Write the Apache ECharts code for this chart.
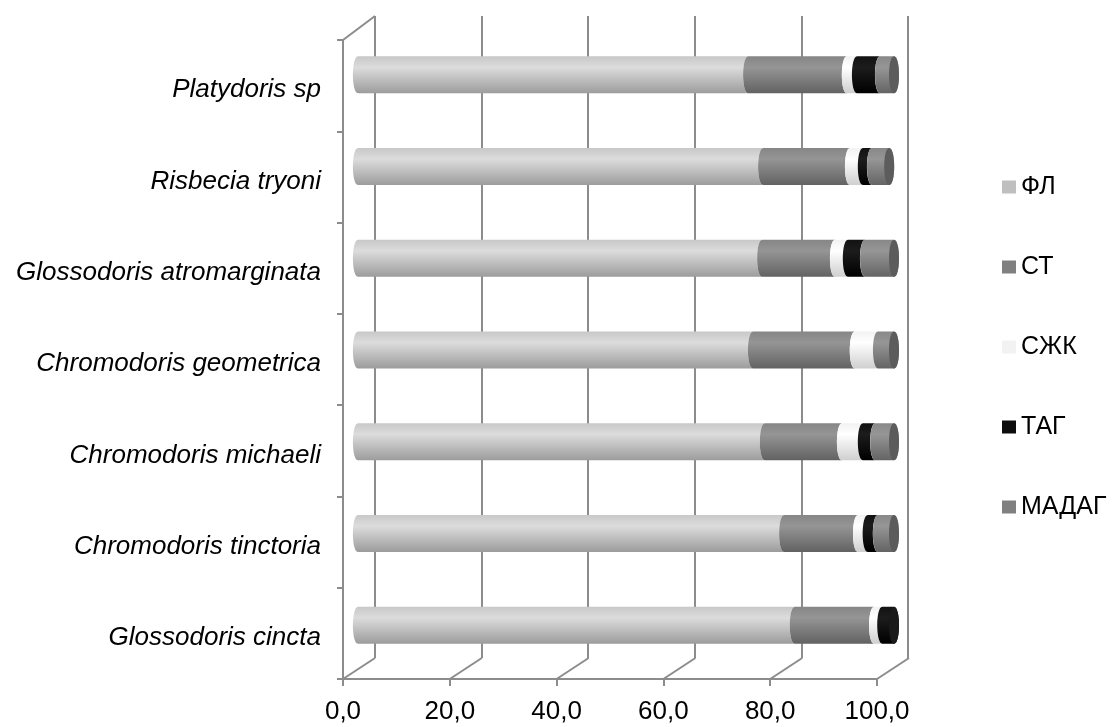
<!DOCTYPE html>
<html>
<head>
<meta charset="utf-8">
<script src="https://cdn.jsdelivr.net/npm/echarts@6/dist/echarts.min.js"></script>
<style>html,body{margin:0;padding:0;background:#fff;}#c{width:1120px;height:727px;}</style>
</head>
<body>
<div id="c"></div>
<script>
const categories = ['Platydoris sp', 'Risbecia tryoni', 'Glossodoris atromarginata', 'Chromodoris geometrica', 'Chromodoris michaeli', 'Chromodoris tinctoria', 'Glossodoris cincta'];
const seriesNames = ['ФЛ', 'СТ', 'СЖК', 'ТАГ', 'МАДАГ'];
const FL    = [72.8, 75.6, 75.4, 73.7, 75.9, 79.5, 81.5];
const ST    = [18.4, 16.2, 13.6, 19.0, 14.4, 13.8, 14.8];
const SZhK  = [1.9, 2.4, 2.4, 4.3, 3.9, 1.8, 1.5];
const TAG   = [4.3, 1.7, 3.2, 0, 2.3, 1.9, 2.2];
const MADAG = [2.6, 3.2, 5.4, 3.0, 3.5, 3.0, 0];
const xTickValues = [0, 20, 40, 60, 80, 100];

const seriesValues = [FL, ST, SZhK, TAG, MADAG];
const styles = [
  {legend: '#bfbfbf', g: ['#c8c8c8', '#dcdcdc', '#9c9c9c'], cap: '#a8a8a8'},
  {legend: '#808080', g: ['#868686', '#959595', '#626262'], cap: '#6a6a6a'},
  {legend: '#f2f2f2', g: ['#f2f2f2', '#ffffff', '#cfcfcf'], cap: '#e0e0e0'},
  {legend: '#0d0d0d', g: ['#121212', '#1c1c1c', '#000000'], cap: '#1a1a1a'},
  {legend: '#808080', g: ['#888888', '#969696', '#646464'], cap: '#5c5c5c'}
];
const LINE = '#8c8c8c';
const FONT = "'Liberation Sans', Arial, sans-serif";

const totals = categories.map((c, i) => seriesValues.reduce((a, arr) => a + arr[i], 0));

function makeRender(st) {
  return function (params, api) {
    const s = api.value(0), e = api.value(1), ci = api.value(2), last = api.value(3);
    if (e - s <= 0.0001) return;
    const p1 = api.coord([s, ci]);
    const p2 = api.coord([e, ci]);
    const h = 37;
    const yc = p1[1], top = yc - h / 2, bot = yc + h / 2;
    const rx = 5, k = rx * 4 / 3;
    const xl = p1[0] + rx, xr = p2[0] + rx;
    let d = 'M' + xl + ',' + top + ' L' + xr + ',' + top + ' ';
    if (last) d += 'C' + (xr + k) + ',' + top + ' ' + (xr + k) + ',' + bot + ' ' + xr + ',' + bot + ' ';
    else d += 'C' + (xr - k) + ',' + top + ' ' + (xr - k) + ',' + bot + ' ' + xr + ',' + bot + ' ';
    d += 'L' + xl + ',' + bot + ' C' + (xl - k) + ',' + bot + ' ' + (xl - k) + ',' + top + ' ' + xl + ',' + top + ' Z';
    const children = [{
      type: 'path',
      shape: {pathData: d},
      style: {fill: new echarts.graphic.LinearGradient(0, 0, 0, 1, [
        {offset: 0, color: st.g[0]}, {offset: 0.3, color: st.g[1]}, {offset: 1, color: st.g[2]}
      ])}
    }];
    if (last) {
      const c = 'M' + xr + ',' + top + ' C' + (xr + k) + ',' + top + ' ' + (xr + k) + ',' + bot + ' ' + xr + ',' + bot +
        ' C' + (xr - k) + ',' + bot + ' ' + (xr - k) + ',' + top + ' ' + xr + ',' + top + ' Z';
      children.push({type: 'path', shape: {pathData: c}, style: {fill: st.cap}});
    }
    return {type: 'group', children: children};
  };
}

const barSeries = seriesNames.map((name, si) => {
  const data = categories.map((c, ci) => {
    let s = 0;
    for (let j = 0; j < si; j++) s += seriesValues[j][ci];
    const e = s + seriesValues[si][ci];
    const last = (seriesValues[si][ci] > 0 && Math.abs(e - totals[ci]) < 1e-6) ? 1 : 0;
    return [s, e, ci, last];
  });
  return {
    name: name,
    type: 'custom',
    xAxisIndex: 2, yAxisIndex: 2,
    itemStyle: {color: styles[si].legend},
    encode: {x: [0, 1], y: 2},
    renderItem: makeRender(styles[si]),
    data: data,
    z: 5
  };
});

const DX = 32, DYB = 21, DYT = 24;
const frameSeries = {
  type: 'custom',
  xAxisIndex: 0, yAxisIndex: 0,
  silent: true,
  data: xTickValues.map(v => [v, 0]),
  encode: {x: 0, y: 1},
  renderItem: function (params, api) {
    const cs = params.coordSys;
    const x = api.coord([api.value(0), 0])[0];
    const bottom = cs.y + cs.height;
    const ch = [{type: 'line', shape: {x1: x, y1: bottom, x2: x + DX, y2: bottom - DYB}, style: {stroke: LINE, lineWidth: 2}}];
    if (params.dataIndex === 0) {
      ch.push({type: 'line', shape: {x1: cs.x, y1: cs.y, x2: cs.x + DX, y2: cs.y - DYT}, style: {stroke: LINE, lineWidth: 2}});
    }
    return {type: 'group', children: ch};
  },
  z: 1
};

const chart = echarts.init(document.getElementById('c'));
chart.setOption({
  backgroundColor: '#fff',
  animation: false,
  legend: {
    orient: 'vertical',
    left: 1002, top: 172, padding: 0,
    itemWidth: 14, itemHeight: 13, itemGap: 50,
    icon: 'rect',
    data: seriesNames,
    textStyle: {fontSize: 25, color: '#000', fontFamily: FONT, lineHeight: 30}
  },
  grid: [
    {left: 343, top: 40, width: 534, height: 639},
    {left: 375, top: 16, width: 533, height: 642},
    {left: 353, top: 29, width: 536, height: 642}
  ],
  xAxis: [
    {gridIndex: 0, type: 'value', min: 0, max: 100, interval: 20,
      axisLine: {show: true, lineStyle: {color: LINE, width: 2}},
      axisTick: {show: true, length: 7, lineStyle: {color: LINE, width: 2}},
      splitLine: {show: false},
      axisLabel: {margin: 20, fontSize: 26, color: '#000', fontFamily: FONT,
        formatter: v => v.toFixed(1).replace('.', ',')}},
    {gridIndex: 1, type: 'value', min: 0, max: 100, interval: 20,
      axisLine: {show: false}, axisTick: {show: false}, axisLabel: {show: false},
      splitLine: {show: true, lineStyle: {color: LINE, width: 2}}},
    {gridIndex: 2, type: 'value', min: 0, max: 100, interval: 20, show: false, splitLine: {show: false}}
  ],
  yAxis: [
    {gridIndex: 0, type: 'category', inverse: true, data: categories,
      axisLine: {show: true, lineStyle: {color: LINE, width: 2}},
      axisTick: {show: true, length: 6, lineStyle: {color: LINE, width: 2}},
      axisLabel: {margin: 22, color: '#000',
        formatter: v => '{t|' + v + '}',
        rich: {t: {fontSize: 26, fontStyle: 'italic', color: '#000', fontFamily: FONT, padding: [9, 0, 0, 0]}}}},
    {gridIndex: 1, type: 'category', inverse: true, data: categories, show: false},
    {gridIndex: 2, type: 'category', inverse: true, data: categories, show: false}
  ],
  series: [frameSeries].concat(barSeries)
});
</script>
</body>
</html>
